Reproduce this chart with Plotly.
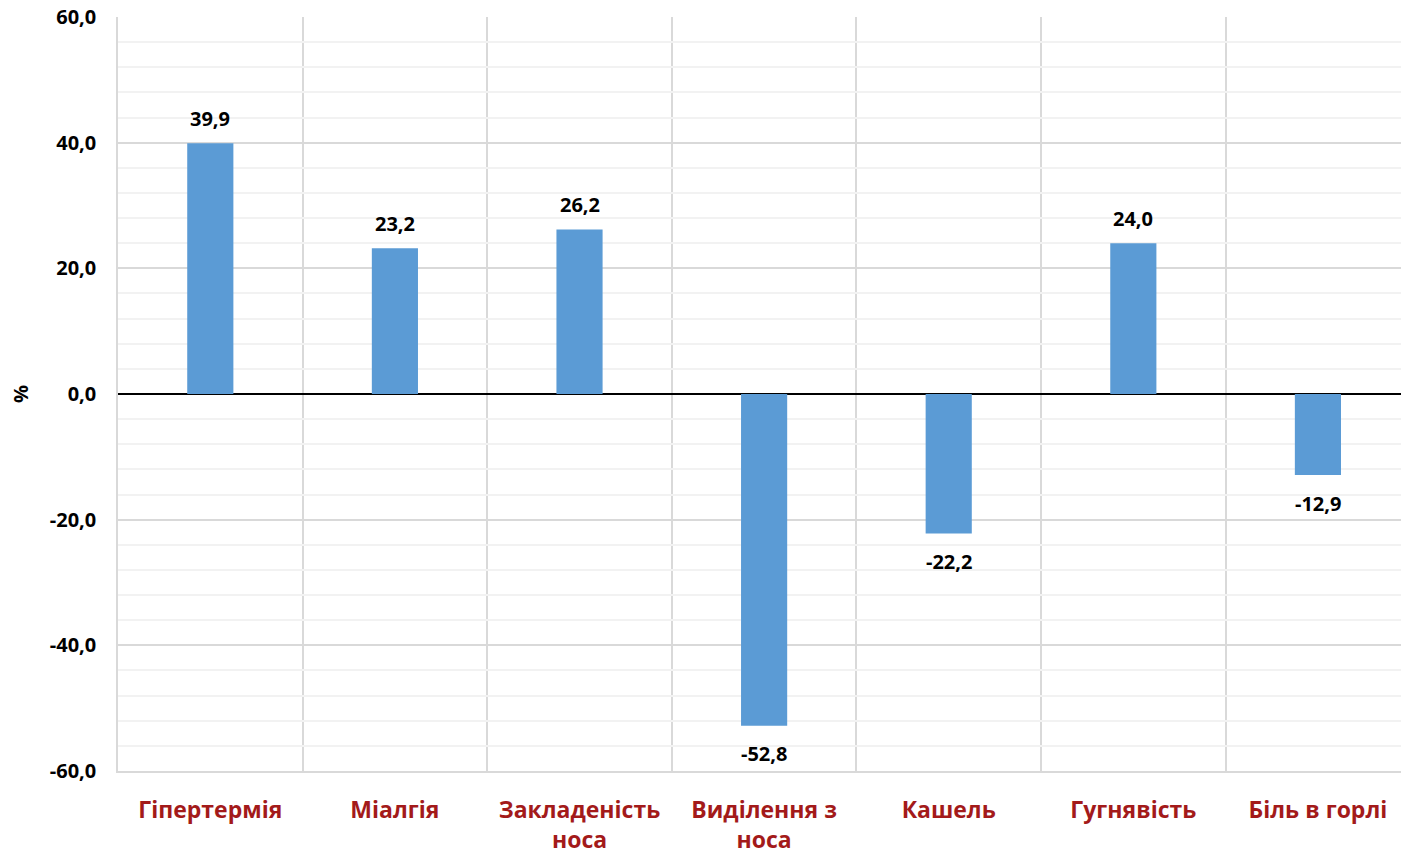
import plotly.graph_objects as go

categories = ["Гіпертермія", "Міалгія", "Закладеність<br>носа", "Виділення з<br>носа",
              "Кашель", "Гугнявість", "Біль в горлі"]
values = [39.9, 23.2, 26.2, -52.8, -22.2, 24.0, -12.9]
y_tick_values = [-60, -40, -20, 0, 20, 40, 60]
y_tick_labels = ["-60,0", "-40,0", "-20,0", "0,0", "20,0", "40,0", "60,0"]

FONT = "Open Sans, Noto Sans, DejaVu Sans, sans-serif"
positions = list(range(len(categories)))
labels = [f"{v:.1f}".replace(".", ",") for v in values]

fig = go.Figure(go.Bar(
    x=positions, y=values, width=0.25,
    marker=dict(color="#5B9BD5", line=dict(width=0)),
    hoverinfo="skip",
))

for p, v, t in zip(positions, values, labels):
    fig.add_annotation(
        x=p, y=v, text=t, showarrow=False, xref="x", yref="y",
        yanchor="middle", yshift=25 if v >= 0 else -28,
        font=dict(family=FONT, size=20, color="#000000", weight="bold"),
    )

fig.update_layout(
    width=1401, height=858,
    margin=dict(l=118, r=0, t=17, b=87),
    paper_bgcolor="white", plot_bgcolor="white",
    showlegend=False,
    font=dict(family=FONT),
)
fig.update_xaxes(
    range=[-0.5, 6.45],
    tickmode="array", tickvals=positions, ticktext=categories,
    tickfont=dict(family=FONT, size=23, color="#A31A1A", weight="bold"),
    showgrid=False, zeroline=False, ticks="",
    showline=True, linecolor="#D9D9D9", linewidth=1.5,
    ticklabelstandoff=18,
    minor=dict(tickmode="array", tickvals=[p - 0.5 for p in range(len(categories) + 1)],
               showgrid=True, gridcolor="#D9D9D9", gridwidth=1.5, ticks=""),
)
fig.update_yaxes(
    range=[-60, 60],
    tickmode="array", tickvals=y_tick_values, ticktext=y_tick_labels,
    tickfont=dict(family=FONT, size=20, color="#000000", weight="bold"),
    ticklabeloverflow="allow",
    showgrid=True, gridcolor="#D9D9D9", gridwidth=1.5,
    minor=dict(dtick=4, tick0=0, showgrid=True, gridcolor="#F2F2F2", gridwidth=1.5, ticks=""),
    zeroline=True, zerolinecolor="#000000", zerolinewidth=2,
    showline=True, linecolor="#D9D9D9", linewidth=1.5,
    ticks="", ticklabelstandoff=16,
    title=dict(text="%", font=dict(family=FONT, size=20, color="#000000", weight="bold"), standoff=16),
)

fig.write_html(
    "out.html",
    config={"displayModeBar": False},
    post_script="document.body.style.margin='0';document.documentElement.style.overflow='hidden';",
)
